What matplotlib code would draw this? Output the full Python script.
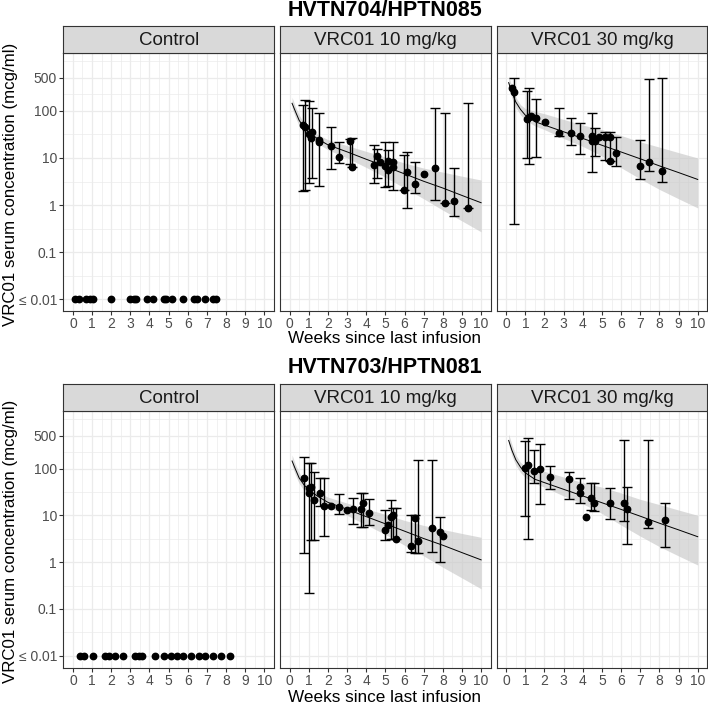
import numpy as np
import matplotlib.pyplot as plt
from matplotlib.ticker import NullFormatter

plt.rcParams['font.family'] = ['Liberation Sans', 'DejaVu Sans']

# control arms: all values below the limit (plotted at 0.01)
ctrl_level = 0.01
ctrl_weeks_704 = [0.12, 0.30, 0.70, 0.87, 1.03, 2.0, 3.0, 3.17, 3.31, 3.87, 4.18, 4.74,
                  4.88, 5.17, 5.73, 6.31, 6.48, 6.88, 7.30, 7.49]
ctrl_weeks_703 = [0.38, 0.59, 1.03, 1.69, 1.86, 2.21, 2.60, 3.26, 3.43, 3.61, 4.30, 4.74,
                  5.14, 5.44, 5.75, 6.19, 6.60, 6.88, 7.30, 7.74, 8.19]

# HVTN704/HPTN085, 10 mg/kg : week, median conc, lower, upper (None = no bar)
w704_10 = [0.68, 0.80, 1.00, 1.16, 1.13, 1.56, 1.56, 2.14, 2.59, 3.13, 3.28, 4.41, 4.55, 4.70,
           4.98, 5.12, 5.16, 5.42, 5.42, 5.99, 6.11, 6.56, 7.0, 7.57, 8.14, 8.56, 9.29]
c704_10 = [49, 45, 32, 36, 26, 24.5, 21.4, 17.8, 10.7, 22.4, 6.3, 7.2, 11, 8.3,
           6.9, 8.5, 5.5, 8.3, 6.3, 2.1, 5.0, 2.8, 4.6, 6.2, 1.1, 1.2, 0.85]
lo704_10 = [2.0, 2.1, 2.9, 3.8, None, 2.6, None, 5.9, 7.7, 7.6, 6.3, 2.9, 3.8, None,
            2.4, 2.6, None, 2.1, None, 2.1, 0.87, 1.8, None, 1.26, 1.1, 0.6, 0.85]
hi704_10 = [134, 170, 162, 114, None, 92, None, 45, 22, 25, 26, 19, 15.5, None,
            22, 15, None, 22, None, 11.8, 13.2, 8.1, None, 118, 89, 6.2, 145]

# HVTN704/HPTN085, 30 mg/kg
w704_30 = [0.29, 0.42, 1.09, 1.20, 1.32, 1.56, 2.01, 2.74, 3.41, 3.85, 4.47, 4.47, 4.64,
           4.85, 5.16, 5.44, 5.44, 5.74, 7.0, 7.44, 8.13]
c704_30 = [302, 257, 68, 74, 76, 70, 59, 34, 34, 30, 30, 23, 23,
           28, 28, 28, 8.7, 13, 6.6, 8.1, 5.4]
lo704_30 = [None, 0.39, 10, 7.6, None, 10.5, None, 30, 19, 12, 5.0, None, 11,
            None, 8.9, 8.7, None, 6.6, 3.6, 5.3, 3.1]
hi704_30 = [None, 490, 269, 309, None, 182, None, 115, 72, 54, 91, None, 43,
            None, 35, 35, None, 28, 24, 468, 500]

# HVTN703/HPTN081, 10 mg/kg
w703_10 = [0.73, 0.99, 1.04, 1.11, 1.25, 1.60, 1.82, 2.14, 2.59, 2.99, 3.30, 3.72, 3.85, 4.17,
           4.98, 5.12, 5.28, 5.42, 5.56, 6.32, 6.54, 6.68, 7.45, 7.85, 7.99]
c703_10 = [63, 38, 30, 40, 21, 30, 16, 16, 15, 13.2, 13.5, 13.5, 18, 11.2,
           4.9, 6.2, 9.2, 10.2, 3.2, 2.2, 8.7, 2.8, 5.3, 4.4, 3.7]
lo703_10 = [1.6, 0.22, None, 3.0, 3.0, 16, 3.7, None, 10.5, None, 6.6, 5.6, 5.7, 6.3,
            3.0, None, 3.1, 3.1, 3.2, 1.66, 1.6, 1.6, 1.66, 1.0, None]
hi703_10 = [180, 134, None, 132, 83, 64, 62, None, 28, None, 23, 30, 30, 22,
            13, None, 21, 14.4, 14.4, 10, 10.3, 155, 150, 9.1, None]

# HVTN703/HPTN081, 30 mg/kg
w703_30 = [1.00, 1.13, 1.44, 1.75, 2.30, 3.29, 3.86, 3.86, 4.16, 4.42, 4.61, 5.44, 6.17,
           6.31, 7.42, 8.27]
c703_30 = [103, 122, 88, 100, 66, 59, 40, 29.5, 9.4, 23, 18, 18, 18, 13.6, 7.1, 8.1]
lo703_30 = [9.7, 3.2, 49, 17.7, 36, 22, 18.5, None, None, 13, 12.6, 8.3, 7.4, 2.5, 5.3, 2.1]
hi703_30 = [390, 447, 245, 340, 112, 85, 62, None, None, 49, 49, 39, 400, 41, 415, 18.6]

# model fit with band
fit_weeks = [0.13, 0.3, 0.5, 0.75, 1.0, 1.5, 2, 3, 4, 5, 6, 7, 8, 9, 10]
fit_10 = [145, 98, 63, 45, 35, 25, 19, 13.5, 9.4, 6.6, 4.6, 3.2, 2.3, 1.6, 1.12]
hi_10 = [195, 124, 82, 55, 43, 31, 24.5, 18.3, 13.8, 10.5, 7.8, 6.1, 5.0, 4.1, 3.4]
lo_10 = [114, 74, 48, 34, 27.4, 20, 15, 10, 6.3, 3.9, 2.3, 1.36, 0.78, 0.46, 0.27]
fit_30 = [398, 245, 155, 107, 81, 59, 50, 36, 26, 18.6, 13.4, 9.6, 6.8, 4.9, 3.5]
hi_30 = [550, 325, 195, 135, 112, 98, 87, 66, 50, 40, 30, 22, 17, 13, 10]
lo_30 = [325, 186, 118, 82, 64, 48, 40, 26, 17.6, 11, 6.2, 3.6, 2.15, 1.36, 0.87]

y_ticks = [0.01, 0.1, 1, 10, 100, 500]
y_labels = ['\u2264 0.01', '0.1', '1', '10', '100', '500']
y_minor = [10**-1.5, 10**-0.5, 10**0.5, 10**1.5, 10**2.35, 10**3.05]

W, H = 708, 704
fig = plt.figure(figsize=(W / 100, H / 100), dpi=100)


def box(x0, y0, x1, y1):
    return [x0 / W, 1 - y1 / H, (x1 - x0) / W, (y1 - y0) / H]


def setup(ax, first):
    ax.set_yscale('log')
    ax.set_xlim(-0.5, 10.5)
    ax.set_ylim(10**-2.25, 10**3.24)
    ax.set_xticks(range(11))
    ax.set_xticks(np.arange(0.5, 10.5, 1), minor=True)
    ax.set_yticks(y_ticks, labels=y_labels)
    ax.set_yticks(y_minor, minor=True)
    ax.yaxis.set_minor_formatter(NullFormatter())
    ax.grid(which='major', color='#EBEBEB', lw=0.9)
    ax.grid(which='minor', color='#EBEBEB', lw=0.5)
    ax.set_axisbelow(True)
    ax.tick_params(which='minor', length=0)
    ax.tick_params(which='major', length=3, width=0.8, color='#333333',
                   labelsize=10, labelcolor='#4D4D4D', pad=1.5)
    for s in ax.spines.values():
        s.set_color('#333333')
        s.set_linewidth(0.8)
    if not first:
        ax.tick_params(axis='y', left=False, labelleft=False)


def strip(x0, y0, x1, y1, label):
    sa = fig.add_axes(box(x0, y0, x1, y1))
    sa.set_facecolor('#D9D9D9')
    sa.set_xticks([])
    sa.set_yticks([])
    for s in sa.spines.values():
        s.set_color('#333333')
        s.set_linewidth(0.8)
    sa.text(0.5, 0.45, label, ha='center', va='center', fontsize=13.5, color='#1A1A1A',
            transform=sa.transAxes)


def draw_obs(ax, w, c, lo, hi):
    w = np.array(w, dtype=float)
    c = np.array(c, dtype=float)
    lo = np.array(lo, dtype=float)
    hi = np.array(hi, dtype=float)
    m = ~np.isnan(lo)
    ax.errorbar(w[m], c[m], yerr=[c[m] - lo[m], hi[m] - c[m]], fmt='none',
                ecolor='black', elinewidth=1.0, capsize=3.5, capthick=1.0)
    ax.plot(w, c, 'o', color='black', ms=4.6)


def draw_fit(ax, fit, lo, hi):
    ax.fill_between(fit_weeks, lo, hi, color='#C8C8C8', alpha=0.65, lw=0)
    ax.plot(fit_weeks, fit, color='black', lw=0.7)


cols = [(63.3, 274.0), (280.0, 490.7), (496.6, 707.3)]
rows = [
    dict(title='HVTN704/HPTN085', title_y=10, strip=(26, 52.5), panel=(52.5, 311),
         xlab_y=331, ylab_y=184, ctrl=ctrl_weeks_704,
         d10=(w704_10, c704_10, lo704_10, hi704_10),
         d30=(w704_30, c704_30, lo704_30, hi704_30)),
    dict(title='HVTN703/HPTN081', title_y=367, strip=(384, 410.5), panel=(410.5, 667.5),
         xlab_y=690, ylab_y=541, ctrl=ctrl_weeks_703,
         d10=(w703_10, c703_10, lo703_10, hi703_10),
         d30=(w703_30, c703_30, lo703_30, hi703_30)),
]
strip_names = ['Control', 'VRC01 10 mg/kg', 'VRC01 30 mg/kg']

for r in rows:
    axs = []
    for i, (x0, x1) in enumerate(cols):
        ax = fig.add_axes(box(x0, r['panel'][0], x1, r['panel'][1]))
        setup(ax, i == 0)
        strip(x0, r['strip'][0], x1, r['strip'][1], strip_names[i])
        axs.append(ax)
    axs[0].plot(r['ctrl'], [ctrl_level] * len(r['ctrl']), 'o', color='black', ms=4.6)
    draw_fit(axs[1], fit_10, lo_10, hi_10)
    draw_obs(axs[1], *r['d10'])
    draw_fit(axs[2], fit_30, lo_30, hi_30)
    draw_obs(axs[2], *r['d30'])
    fig.text(385 / W, 1 - r['title_y'] / H, r['title'], ha='center', va='center',
             fontsize=15.5, fontweight='bold')
    fig.text(385 / W, 1 - r['xlab_y'] / H, 'Weeks since last infusion', ha='center',
             va='top', fontsize=12.3)
    fig.text(11 / W, 1 - r['ylab_y'] / H, 'VRC01 serum concentration (mcg/ml)', ha='center',
             va='center', rotation=90, fontsize=12.2)

fig.savefig('out.png', dpi=100)
